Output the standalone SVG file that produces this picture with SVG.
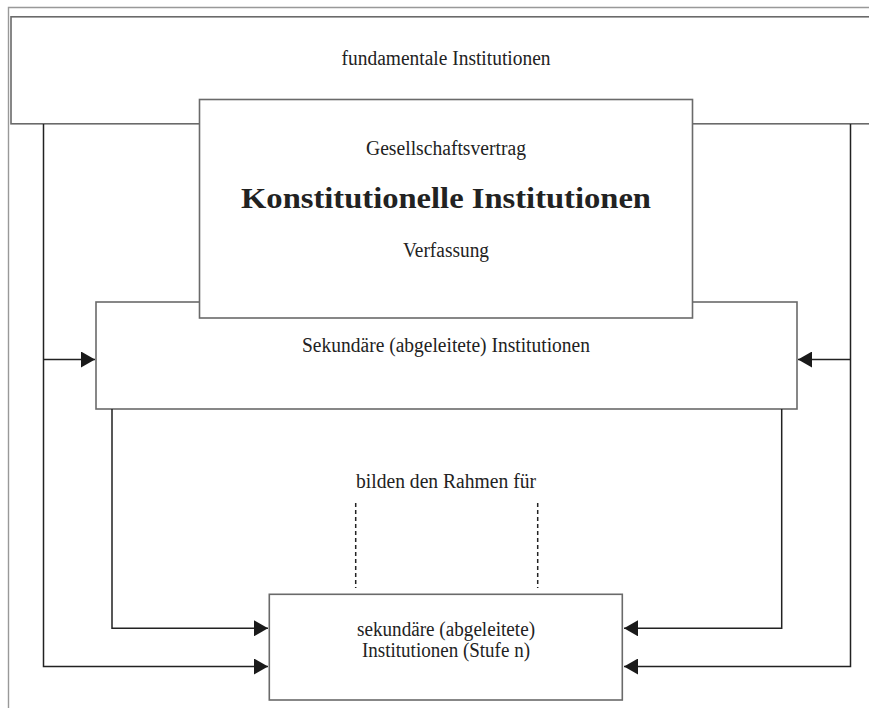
<svg xmlns="http://www.w3.org/2000/svg" width="869" height="708" viewBox="0 0 869 708">
<style>
.box{fill:#fff;stroke:#6a6a6a;stroke-width:1.6}
.frame{fill:none;stroke:#999;stroke-width:1.4}
.con{fill:none;stroke:#222;stroke-width:1.5}
.dash{fill:none;stroke:#222;stroke-width:1.5;stroke-dasharray:4 3}
text{font-family:'Liberation Serif','DejaVu Serif',serif;fill:#222;text-anchor:middle;font-size:20.5px}
.big{font-size:30px;font-weight:bold}
</style>
<defs>
<marker id="ah" viewBox="0 0 14 16" refX="14" refY="8" markerWidth="14" markerHeight="16" markerUnits="userSpaceOnUse" orient="auto">
<path d="M0,0 L14,8 L0,16 Z" fill="#1a1a1a"/>
</marker>
</defs>
<rect x="0" y="0" width="869" height="708" fill="#fff"/>
<path class="frame" d="M880,7.5 H8.5 V720"/>
<g id="fundamentale">
<rect class="box" x="11" y="16.8" width="880" height="107"/>
<text x="446" y="65" textLength="209" lengthAdjust="spacingAndGlyphs">fundamentale Institutionen</text>
</g>
<g id="sekundaere">
<rect class="box" x="96" y="302" width="701" height="107"/>
<text x="446" y="352" textLength="288" lengthAdjust="spacingAndGlyphs">Sekundäre (abgeleitete) Institutionen</text>
</g>
<g id="konstitutionelle">
<rect class="box" x="199.5" y="99.5" width="493" height="218.5"/>
<text x="446" y="155" textLength="160" lengthAdjust="spacingAndGlyphs">Gesellschaftsvertrag</text>
<text class="big" x="446" y="207.5" textLength="410" lengthAdjust="spacingAndGlyphs">Konstitutionelle Institutionen</text>
<text x="446" y="257" textLength="86" lengthAdjust="spacingAndGlyphs">Verfassung</text>
</g>
<g id="stufe_n">
<rect class="box" x="269.3" y="594.3" width="353" height="105.7"/>
<text x="446" y="636" textLength="178" lengthAdjust="spacingAndGlyphs">sekundäre (abgeleitete)</text>
<text x="446" y="657" textLength="168" lengthAdjust="spacingAndGlyphs">Institutionen (Stufe n)</text>
</g>
<g id="label">
<text x="446" y="488" textLength="180" lengthAdjust="spacingAndGlyphs">bilden den Rahmen für</text>
</g>
<g id="connectors">
<path class="con" d="M43.5,124 V666.5 H268" marker-end="url(#ah)"/>
<path class="con" d="M43.5,359.5 H95" marker-end="url(#ah)"/>
<path class="con" d="M850.5,124 V666.5 H624" marker-end="url(#ah)"/>
<path class="con" d="M850.5,359.5 H798" marker-end="url(#ah)"/>
<path class="con" d="M112,409 V628.3 H268" marker-end="url(#ah)"/>
<path class="con" d="M781.7,409 V628.3 H624" marker-end="url(#ah)"/>
<path class="dash" d="M355.7,503 V588"/>
<path class="dash" d="M537.7,503 V588"/>
</g>
</svg>
